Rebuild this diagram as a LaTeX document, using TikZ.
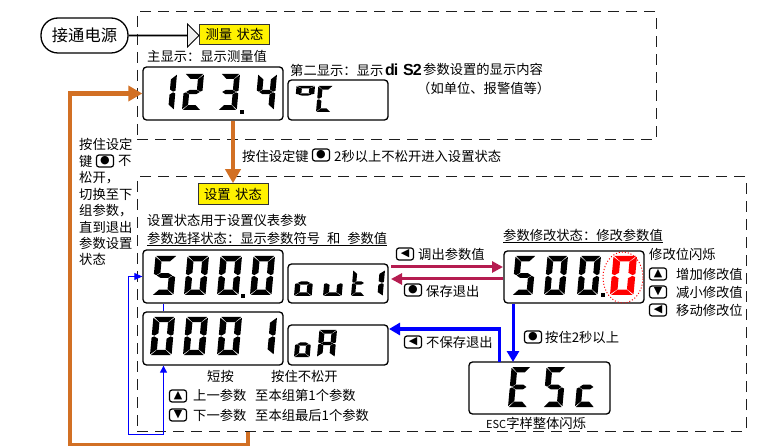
\documentclass[tikz,border=0pt]{standalone}
\usepackage{fontspec}
\setmainfont{Noto Sans CJK SC}
\newfontfamily\keyfont{DejaVu Sans}
\newfontfamily\hwfont{Liberation Sans}
\usetikzlibrary{arrows.meta,shapes.geometric,shapes.arrows}

\definecolor{loopcolor}{RGB}{210,112,36}
\definecolor{crimcolor}{RGB}{181,28,80}
\definecolor{framecolor}{RGB}{30,30,30}

% segments of one digit, 1 wide and 2 high
\def\sega{(.04,0)--(.96,0)--(.7,.27)--(.3,.27)--cycle}
\def\segb{(1,.04)--(1,.92)--(.88,.98)--(.7,.86)--(.7,.3)--cycle}
\def\segc{(1,1.96)--(.7,1.7)--(.7,1.14)--(.88,1.02)--(1,1.08)--cycle}
\def\segd{(.04,2)--(.96,2)--(.7,1.73)--(.3,1.73)--cycle}
\def\sege{(0,1.96)--(.3,1.7)--(.3,1.14)--(.12,1.02)--(0,1.08)--cycle}
\def\segf{(0,.04)--(.3,.3)--(.3,.86)--(.12,.98)--(0,.92)--cycle}
\def\segg{(.14,1)--(.32,.88)--(.68,.88)--(.86,1)--(.68,1.12)--(.32,1.12)--cycle}

\def\lfive{a,f,g,c,d}
\def\lzero{a,b,c,d,e,f}
\def\lone{b,c}

% \lcddigit[colour]{x}{y}{width}{height}{segments}
\newcommand{\lcddigit}[6][black]{%
    \begin{scope}[shift={(#2+0.09*#5,#3)},x={1pt*(#4-0.09*#5)},y={-0.5pt*#5},xslant=0.09]
        \edef\seglist{#6}
        \foreach \s in \seglist {\fill[#1] \csname seg\s\endcsname;}
    \end{scope}}

\tikzset{
    frame/.style={draw=framecolor,line width=1pt,dash pattern=on 11pt off 7pt},
    lcdbox/.style={draw,line width=1.3pt,rounded corners=3.5pt,inner sep=0pt},
    statelabel/.style={draw=black!80,line width=1pt,fill=yellow,inner sep=0pt,minimum width=70,minimum height=20.5,font=\fontsize{13.3}{16}\selectfont},
    note/.style={anchor=west,inner sep=0pt,font=\fontsize{13.3}{16}\selectfont},
    keybtn/.style={draw,rounded corners=2.5pt,line width=1.2pt,minimum width=17,minimum height=12,inner sep=0pt,font=\keyfont\fontsize{11}{11}\selectfont},
    looparrow/.style={draw=loopcolor,line width=4.5pt,-{Triangle[length=14pt,width=15pt]}},
    crimarrow/.style={draw=crimcolor,line width=3pt,-{Triangle[length=11pt,width=11pt]}},
    thickblue/.style={draw=blue,line width=3pt,-{Triangle[length=11pt,width=12pt]}},
    thinblue/.style={draw=blue,line width=1pt},
}

\begin{document}
\begin{tikzpicture}[x=1pt,y=-1pt]
    \useasboundingbox (0,0) rectangle (763,446);
    \node[frame,minimum width=519,minimum height=128] (measureframe) at (396.5,76) {};
    \node[frame,minimum width=609,minimum height=254] (setframe) at (441.5,304) {};

    \node[draw,line width=1.3pt,rounded corners=17pt,minimum width=87,minimum height=35,inner sep=0pt,font=\fontsize{16.3}{18}\selectfont] (power) at (84.5,35.5) {接通电源};
    \node[statelabel] (measurelabel) at (234.5,34.5) {测量\,\,状态};
    \node[statelabel] (setlabel) at (233,194) {设置\,\,状态};
    \node[single arrow,draw,line width=.8pt,fill=black!6,inner sep=0pt,minimum height=70,minimum width=23,single arrow head extend=8pt,single arrow tip angle=90,anchor=west] (powerarrow) at (power.east) {};

    % displays
    \node[lcdbox,minimum width=140,minimum height=53] (mainbox) at (213,93.5) {};
    \node[lcdbox,minimum width=100,minimum height=40] (unitbox) at (338,100) {};
    \node[lcdbox,minimum width=140,minimum height=53] (valbox) at (213,276.5) {};
    \node[lcdbox,minimum width=100,minimum height=39] (outbox) at (338,283.5) {};
    \node[lcdbox,minimum width=140,minimum height=53] (seqbox) at (213,338.5) {};
    \node[lcdbox,minimum width=100,minimum height=40] (oabox) at (338,345) {};
    \node[lcdbox,minimum width=140,minimum height=52] (editbox) at (574,277) {};
    \node[lcdbox,minimum width=141,minimum height=52] (escbox) at (539.5,388) {};

    \foreach \dx/\dg in {155/{b,c},182/{a,b,g,e,d},218/{a,b,g,c,d},255/{f,g,b,c}}
        \lcddigit{\dx}{74}{22}{36}{\dg};
    \lcddigit{295}{86}{20}{17}{a,b,f,g}
    \lcddigit{316}{86}{17}{26}{a,f,e,d}

    \foreach \dx/\dg in {152/\lfive,184/\lzero,217/\lzero,250/\lzero}
        \lcddigit{\dx}{256}{25}{39}{\dg};
    \lcddigit{294}{270}{20}{26}{c,d,e,g}
    \lcddigit{323}{270}{21}{26}{c,d,e}
    \lcddigit{351}{270}{16}{26}{f,g,e,d}
    \lcddigit{365}{270}{20}{26}{\lone}

    \foreach \dx/\dg in {150/\lzero,183/\lzero,217/\lzero,252/\lone}
        \lcddigit{\dx}{317}{25}{38}{\dg};
    \lcddigit{294}{331}{18}{26}{c,d,e,g}
    \lcddigit{317}{330}{20}{27}{a,b,c,e,f,g}

    \foreach \dx/\dg in {512/\lfive,544/\lzero,577/\lzero}
        \lcddigit{\dx}{256}{24}{39}{\dg};
    \lcddigit[red]{610}{256}{27}{39}{\lzero}

    \foreach \dx/\dg in {508/{a,f,g,e,d},543/\lfive,575/{g,e,d}}
        \lcddigit{\dx}{367}{23}{40}{\dg};

    \foreach \px/\py in {242/112,243/296,603/295}
        \fill (\px-1.7,\py-1.7) rectangle (\px+1.7,\py+1.7);
    \node[draw=red,dotted,line width=1pt,ellipse,minimum width=40,minimum height=51,inner sep=0pt] (blinkring) at (623,277.5) {};

    % connectors
    \coordinate (loopstart) at (248,432);
    \coordinate (loopright) at (248,445);
    \coordinate (loopleft) at (70,445);
    \draw[looparrow] (loopstart) -- (loopright) -- (loopleft) |- (mainbox.west);
    \draw[looparrow] (mainbox.south -| setlabel.north) -- (setlabel.north);

    \coordinate (editin) at (503,267);
    \coordinate (outin) at (391,267);
    \coordinate (editout) at (503,279);
    \coordinate (outback) at (391,279);
    \draw[crimarrow] (outin) -- (editin);
    \draw[crimarrow] (editout) -- (outback);

    \coordinate (escdrop) at (513,362);
    \coordinate (escrise) at (499,362);
    \coordinate (oaentry) at (389,329);
    \draw[thickblue] (escdrop |- editbox.south) -- (escdrop);
    \draw[thickblue] (escrise) |- (oaentry);

    \coordinate (scanright) at (163.5,434);
    \coordinate (scanleft) at (128,434);
    \draw[thinblue,-{Triangle[length=7pt,width=7pt]}] (scanleft) -- (scanright) -- (scanright |- seqbox.south);
    \draw[thinblue,-{Triangle[length=8pt,width=7pt]}] (scanleft) |- (valbox.west);
    \draw[thinblue] (scanright |- valbox.south) -- (scanright |- seqbox.north);

    % texts of the upper frame
    \node[note] (mainhint) at (147,56) {主显示：显示测量值};
    \node[note] (unithint) at (290,70) {第二显示：显示};
    \node[anchor=west,inner sep=0pt,font=\hwfont\bfseries\fontsize{16}{16}\selectfont] (dimark) at (385,70) {d\kern-1pt i};
    \node[anchor=west,inner sep=0pt,font=\hwfont\bfseries\fontsize{16}{16}\selectfont] (stwomark) at (403,70) {S\kern-1pt 2};
    \node[note] (unithintb) at (423,69.5) {参数设置的显示内容};
    \node[note] (unithintc) at (417,88) {（如单位、报警值等）};
    \node[note] (enterhint) at (242,156) {按住设定键};
    \node[keybtn] (enterkey) at (321,155) {●};
    \node[note] (enterhintb) at (334,156) {2秒以上不松开进入设置状态};

    % texts left of the frames
    \node[note] (backa) at (79,144) {按住设定};
    \node[note] (backb) at (79,161) {键};
    \node[keybtn] (backkey) at (105,161) {●};
    \node[note] (backc) at (118,161) {不};
    \foreach \i/\ty/\txt in {d/178/松开，,e/194.5/切换至下,f/211/组参数，,g/227/直到退出,h/243/参数设置,j/259/状态}
        \node[note] (back\i) at (79,\ty) {\txt};

    % texts of the lower frame
    \node[note] (sethint) at (147,220) {设置状态用于设置仪表参数};
    \node[note] (selhint) at (147,239) {\underline{参数选择状态：显示参数符号\hspace{7pt}和\hspace{7pt}参数值}};
    \node[note] (edithint) at (503,236) {\underline{参数修改状态：修改参数值}};

    \node[keybtn] (callkey) at (405,254) {◀};
    \node[note] (calltxt) at (418,254) {调出参数值};
    \node[keybtn] (savekey) at (413,290) {●};
    \node[note] (savetxt) at (426,291) {保存退出};
    \node[keybtn] (nosavekey) at (413,342) {◀};
    \node[note] (nosavetxt) at (426,342) {不保存退出};
    \node[keybtn] (holdkey) at (533,337) {●};
    \node[note] (holdtxt) at (545,337) {按住2秒以上};
    \node[note] (esctxt) at (486,423) {{\fontsize{11}{11}\selectfont ESC}字样整体闪烁};

    \node[note] (blinktxt) at (649,254) {修改位闪烁};
    \foreach \i/\ty/\sym/\txt in {u/274/▲/增加修改值,d/292/▼/减小修改值,m/310/◀/移动修改位}{
        \node[keybtn] (edit\i key) at (658,\ty) {\sym};
        \node[note] (edit\i txt) at (676,\ty) {\txt};
    }

    \node[note] (shorttxt) at (207,376) {短按};
    \node[note] (longtxt) at (271,376) {按住不松开};
    \node[keybtn] (upkey) at (178,396) {▲};
    \node[note] (uptxt) at (193,395) {上一参数};
    \node[note] (uplong) at (255,395) {至本组第1个参数};
    \node[keybtn] (downkey) at (178,415) {▼};
    \node[note] (downtxt) at (193,415) {下一参数};
    \node[note] (downlong) at (255,415) {至本组最后1个参数};
\end{tikzpicture}
\end{document}
